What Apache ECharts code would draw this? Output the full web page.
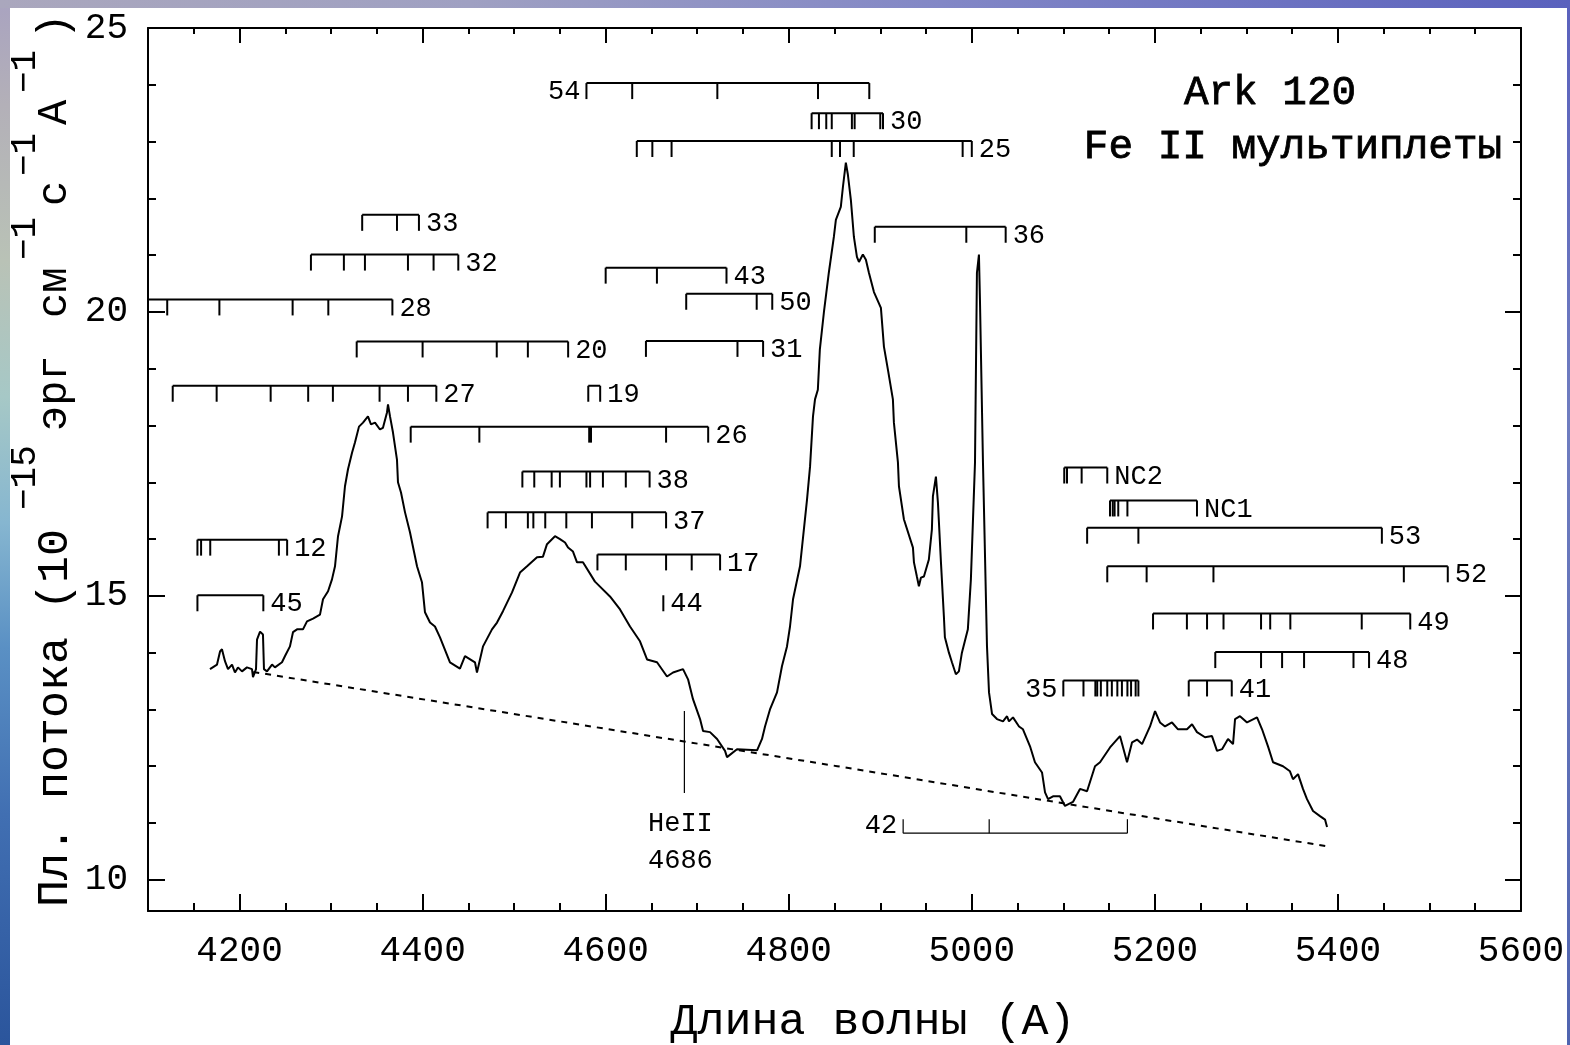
<!DOCTYPE html>
<html>
<head>
<meta charset="utf-8">
<script src="https://cdn.jsdelivr.net/npm/echarts@6/dist/echarts.min.js"></script>
<style>
  html, body { margin: 0; padding: 0; overflow: hidden; background: #fff; }
  #stripLeft { position: absolute; left: 0; top: 0; width: 10px; height: 1045px;
    background: linear-gradient(to bottom, #a9a3c0 0%, #b3b0b8 10%, #b9c2b6 25%, #a6c8c6 38%, #86b6d0 50%, #5a90c4 62%, #416fb2 78%, #2b559c 100%); }
  #stripTop { position: absolute; left: 0; top: 0; width: 1570px; height: 8px;
    background: linear-gradient(to right, #aaa7bd 0%, #9fa0c2 30%, #8287c6 60%, #5a61bd 100%); }
  #stripRight { position: absolute; right: 0; top: 0; width: 3px; height: 1045px;
    background: linear-gradient(to bottom, #5a61bd 0%, #6f7dc0 40%, #4f64b0 100%); }
  #chart { position: absolute; left: 0; top: 0; width: 1570px; height: 1045px; }
</style>
</head>
<body>
<div id="stripLeft"></div>
<div id="stripTop"></div>
<div id="stripRight"></div>
<div id="chart"></div>
<script>
// ---- Ark 120 optical spectrum (wavelength in Å, flux in 1e-15 erg/cm2/s/Å) ----
const spectrumWave = [
  4167.7, 4175.4, 4178.7, 4180.8, 4184.1, 4187.4, 4191.8, 4195.0, 4198.3, 4202.7,
  4208.1, 4213.6, 4214.7, 4218.0, 4219.1, 4222.4, 4225.6, 4226.7, 4230.0, 4235.5,
  4238.7, 4246.4, 4249.7, 4255.1, 4258.4, 4262.8, 4269.3, 4273.7, 4280.3, 4287.9,
  4291.2, 4296.7, 4301.0, 4304.3, 4307.6, 4312.0, 4315.2, 4318.5, 4322.9, 4326.1,
  4330.5, 4334.9, 4340.3, 4343.6, 4348.0, 4353.4, 4356.7, 4361.1, 4362.2, 4364.4,
  4367.6, 4372.0, 4373.1, 4376.4, 4380.8, 4386.2, 4393.9, 4399.3, 4402.6, 4408.1,
  4413.5, 4419.0, 4429.9, 4440.8, 4446.3, 4457.2, 4459.4, 4466.0, 4475.8, 4481.3,
  4487.8, 4497.7, 4506.4, 4514.1, 4525.0, 4531.5, 4535.9, 4544.6, 4550.1, 4555.6,
  4558.9, 4564.3, 4568.7, 4575.2, 4588.3, 4604.7, 4615.7, 4626.6, 4637.5, 4645.2,
  4656.1, 4667.0, 4673.6, 4684.5, 4690.0, 4695.4, 4703.1, 4706.4, 4714.0, 4721.7,
  4730.4, 4732.6, 4743.5, 4765.4, 4770.8, 4774.1, 4779.5, 4787.2, 4792.6, 4798.1,
  4801.4, 4804.7, 4812.3, 4820.0, 4823.3, 4826.5, 4828.7, 4831.8, 4834.0, 4838.4,
  4843.8, 4849.3, 4851.5, 4856.9, 4859.2, 4862.4, 4864.6, 4867.9, 4871.2, 4874.5,
  4876.7, 4881.0, 4884.3, 4887.6, 4893.1, 4900.7, 4904.0, 4908.4, 4913.8, 4914.9,
  4919.3, 4920.4, 4925.8, 4935.7, 4936.8, 4940.0, 4942.2, 4944.4, 4947.7, 4953.1,
  4956.4, 4957.5, 4960.8, 4963.0, 4966.3, 4969.5, 4970.6, 4975.0, 4978.3, 4982.6,
  4985.9, 4989.2, 4995.7, 4999.0, 5003.5, 5005.6, 5007.8, 5008.9, 5012.2, 5016.6,
  5018.8, 5022.1, 5027.5, 5034.1, 5038.5, 5040.6, 5045.0, 5051.6, 5055.9, 5063.6,
  5069.0, 5076.7, 5080.0, 5083.3, 5088.7, 5096.3, 5101.8, 5110.5, 5118.2, 5125.9,
  5134.6, 5140.1, 5151.0, 5161.9, 5169.6, 5175.1, 5180.5, 5186.0, 5194.7, 5200.2,
  5205.6, 5211.1, 5218.7, 5225.3, 5235.1, 5240.6, 5246.0, 5254.8, 5262.4, 5267.9,
  5273.4, 5279.9, 5285.4, 5287.6, 5293.0, 5300.7, 5311.6, 5317.1, 5323.6, 5329.1,
  5340.0, 5347.6, 5350.9, 5356.4, 5361.8, 5366.2, 5372.8, 5380.4, 5385.9, 5388.1
];
const spectrumFlux = [
  13.71, 13.79, 14.02, 14.06, 13.85, 13.71, 13.79, 13.65, 13.74, 13.67,
  13.74, 13.71, 13.57, 13.71, 14.23, 14.37, 14.32, 13.71, 13.67, 13.79,
  13.74, 13.83, 13.94, 14.11, 14.36, 14.41, 14.41, 14.55, 14.60, 14.67,
  14.94, 15.08, 15.29, 15.52, 16.05, 16.40, 16.93, 17.23, 17.52, 17.70,
  17.98, 18.05, 18.16, 18.02, 18.05, 17.93, 17.96, 18.23, 18.37, 18.16,
  17.88, 17.40, 17.00, 16.82, 16.47, 16.12, 15.52, 15.24, 14.71, 14.53,
  14.46, 14.27, 13.83, 13.72, 13.94, 13.83, 13.65, 14.11, 14.41, 14.53,
  14.73, 15.06, 15.41, 15.52, 15.68, 15.69, 15.91, 16.05, 16.00, 15.94,
  15.85, 15.78, 15.59, 15.59, 15.25, 14.99, 14.76, 14.46, 14.20, 13.88,
  13.83, 13.58, 13.65, 13.71, 13.53, 13.18, 12.83, 12.62, 12.60, 12.48,
  12.27, 12.16, 12.30, 12.28, 12.48, 12.70, 13.00, 13.30, 13.76, 14.11,
  14.46, 14.94, 15.52, 16.70, 17.28, 18.16, 18.46, 18.63, 19.34, 19.99,
  20.69, 21.32, 21.62, 21.85, 22.20, 22.63, 22.42, 21.97, 21.32, 20.97,
  20.88, 21.01, 20.92, 20.69, 20.35, 20.07, 19.39, 18.98, 18.46, 18.05,
  17.35, 16.93, 16.35, 15.85, 15.59, 15.34, 15.17, 15.32, 15.34, 15.64,
  16.17, 16.75, 17.10, 16.64, 15.59, 14.64, 14.27, 14.00, 13.83, 13.62,
  13.67, 14.00, 14.41, 15.29, 17.35, 20.69, 21.01, 20.22, 17.35, 14.11,
  13.30, 12.92, 12.83, 12.79, 12.88, 12.79, 12.86, 12.70, 12.65, 12.35,
  12.07, 11.89, 11.54, 11.42, 11.47, 11.47, 11.30, 11.37, 11.60, 11.56,
  12.00, 12.07, 12.33, 12.53, 12.07, 12.42, 12.47, 12.39, 12.70, 12.97,
  12.77, 12.70, 12.77, 12.65, 12.65, 12.74, 12.60, 12.51, 12.53, 12.27,
  12.30, 12.48, 12.39, 12.83, 12.88, 12.77, 12.86, 12.65, 12.35, 12.07,
  12.00, 11.91, 11.77, 11.86, 11.60, 11.42, 11.21, 11.12, 11.06, 10.93
];

// ---- fitted continuum ----
const continuumWave = [4215, 4419, 4853, 5053, 5388];
const continuumFlux = [13.66, 13.13, 12.00, 11.47, 10.59];

// ---- Fe II multiplets: name, bar level (flux units) and line wavelengths ----
const multipletNames = ['54', '30', '25', '33', '36', '32', '43', '50', '28', '20',
  '31', '27', '19', '26', 'NC2', '38', 'NC1', '37', '53', '12',
  '17', '52', '45', '44', '49', '48', '35', '41', '42'];
const multipletLevels = [24.03, 23.50, 23.01, 21.71, 21.50, 21.01, 20.78, 20.32, 20.22, 19.48,
  19.49, 18.70, 18.70, 17.98, 17.26, 17.19, 16.68, 16.47, 16.20, 15.99,
  15.73, 15.52, 15.01, 15.01, 14.69, 14.01, 13.51, 13.51, 10.82];
const multipletWaves = [
  [4579, 4629, 4722, 4832, 4888],
  [4825, 4833, 4841, 4847, 4869, 4872, 4900, 4903],
  [4634, 4651, 4672, 4847, 4856, 4871, 4990, 5000],
  [4334, 4372, 4396],
  [4894, 4994, 5037],
  [4278, 4314, 4337, 4384, 4412, 4439],
  [4600, 4656, 4732],
  [4688, 4765, 4782],
  [4087, 4121, 4178, 4258, 4297, 4367],
  [4328, 4400, 4481, 4515, 4559],
  [4644, 4744, 4772],
  [4127, 4175, 4234, 4275, 4302, 4353, 4384, 4415],
  [4581, 4594],
  [4387, 4462, 4582, 4584, 4666, 4712],
  [5101, 5104, 5120, 5148],
  [4509, 4522, 4541, 4550, 4579, 4583, 4597, 4622, 4648],
  [5151, 5154, 5156, 5160, 5170, 5246],
  [4471, 4491, 4515, 4521, 4534, 4557, 4585, 4629, 4666],
  [5126, 5182, 5448],
  [4154, 4158, 4168, 4243, 4252],
  [4591, 4622, 4666, 4694, 4725],
  [5148, 5191, 5264, 5472, 5520],
  [4154, 4226],
  [4663],
  [5198, 5235, 5257, 5275, 5316, 5326, 5348, 5426, 5479],
  [5266, 5316, 5339, 5363, 5417, 5434],
  [5100, 5122, 5135, 5137, 5141, 5148, 5153, 5159, 5164, 5170, 5174, 5179, 5182],
  [5237, 5257, 5284],
  [4925, 5019, 5170]
];
// multiplets whose number is written before the bar, and the one drawn below the spectrum
const labelBefore = ['54', '35', '42'];
const invertedBar = ['42'];

// ---- He II 4686 marker ----
const heIIWave = 4686;
const heIIFluxRange = [12.97, 11.53];
const heIILabels = ['HeII', '4686'];

// ---- axes ----
const xRange = [4100, 5600];
const yRange = [9.45, 25];
const xTickLabels = [4200, 4400, 4600, 4800, 5000, 5200, 5400, 5600];
const yTickLabels = [10, 15, 20, 25];
const xMinorTicks = [];
for (let v = 4100; v <= 5600; v += 50) xMinorTicks.push(v);
const yMinorTicks = [];
for (let v = 10; v <= 25; v += 1) yMinorTicks.push(v);

const FONT = '"Liberation Mono", "DejaVu Sans Mono", monospace';
const INK = '#000';

function xAxisDef(position, ticks, len, withLine, withLabels) {
  return {
    type: 'value', min: xRange[0], max: xRange[1], position: position,
    axisLine: { show: withLine, onZero: false, lineStyle: { color: INK, width: 2 } },
    axisTick: { show: true, inside: true, length: len, customValues: ticks,
      lineStyle: { color: INK, width: 2 } },
    axisLabel: withLabels ? { show: true, customValues: xTickLabels, margin: 22,
      formatter: v => String(v),
      color: INK, fontFamily: FONT, fontSize: 36, showMaxLabel: true } : { show: false },
    splitLine: { show: false }
  };
}
function yAxisDef(position, ticks, len, withLine, withLabels) {
  return {
    type: 'value', min: yRange[0], max: yRange[1], position: position,
    axisLine: { show: withLine, onZero: false, lineStyle: { color: INK, width: 2 } },
    axisTick: { show: true, inside: true, length: len, customValues: ticks,
      lineStyle: { color: INK, width: 2 } },
    axisLabel: withLabels ? { show: true, customValues: yTickLabels, margin: 20,
      formatter: v => String(v),
      color: INK, fontFamily: FONT, fontSize: 36, showMaxLabel: true } : { show: false },
    splitLine: { show: false }
  };
}

const chart = echarts.init(document.getElementById('chart'), null, { renderer: 'canvas' });

const BAR_TICK = 16;
const LABEL_FONT = '27px ' + FONT;

function renderMultiplet(params, api) {
  const i = api.value(2);
  const name = multipletNames[i];
  const waves = multipletWaves[i];
  const level = multipletLevels[i];
  const down = invertedBar.indexOf(name) < 0;
  const y = api.coord([waves[0], level])[1];
  const xs = waves.map(w => api.coord([w, level])[0]);
  const x0 = Math.min.apply(null, xs), x1 = Math.max.apply(null, xs);
  const lw = down ? 2 : 1.2;
  const children = [];
  if (xs.length > 1) {
    children.push({ type: 'line', shape: { x1: x0, y1: y, x2: x1, y2: y },
      style: { stroke: INK, lineWidth: lw } });
  }
  xs.forEach(x => {
    children.push({ type: 'line',
      shape: { x1: x, y1: y, x2: x, y2: down ? y + BAR_TICK : y - 14 },
      style: { stroke: INK, lineWidth: lw } });
  });
  const before = labelBefore.indexOf(name) >= 0;
  children.push({ type: 'text', style: {
    text: name, x: before ? x0 - 6 : x1 + 7, y: down ? y + 9 : y - 7,
    align: before ? 'right' : 'left', verticalAlign: 'middle',
    fill: INK, font: LABEL_FONT } });
  return { type: 'group', children: children };
}

function renderHeII(params, api) {
  const top = api.coord([heIIWave, heIIFluxRange[0]]);
  const bot = api.coord([heIIWave, heIIFluxRange[1]]);
  return { type: 'group', children: [
    { type: 'line', shape: { x1: top[0], y1: top[1], x2: bot[0], y2: bot[1] },
      style: { stroke: INK, lineWidth: 1.2 } },
    { type: 'text', style: { text: heIILabels[0], x: bot[0] - 4, y: bot[1] + 31,
      align: 'center', verticalAlign: 'middle', fill: INK, font: LABEL_FONT } },
    { type: 'text', style: { text: heIILabels[1], x: bot[0] - 4, y: bot[1] + 68,
      align: 'center', verticalAlign: 'middle', fill: INK, font: LABEL_FONT } }
  ] };
}

// vertical axis title, drawn piece by piece so the exponents sit raised
const yTitleMain = { x: 55, size: 42 };
const yTitleSup = { x: 25, size: 36 };
const yTitlePieces = [
  ['Пл. потока (10', 907, false, 45],
  ['\u221215', 510, true],
  ['эрг', 431, false],
  ['см', 318, false],
  ['\u22121', 260, true],
  ['с', 206, false],
  ['\u22121', 176, true],
  ['A', 125, false],
  ['\u22121', 93, true],
  [')', 39, false]
];
const yTitleGraphics = yTitlePieces.map(p => {
  const s = p[2] ? yTitleSup : yTitleMain;
  const size = p[3] || s.size;
  return { type: 'text', x: s.x, y: p[1], rotation: Math.PI / 2,
    style: { text: p[0], align: 'left', verticalAlign: 'middle', fill: INK,
      font: size + 'px ' + FONT } };
});

const option = {
  backgroundColor: 'transparent',
  animation: false,
  grid: { left: 148, top: 28, right: 49, bottom: 134, containLabel: false, outerBoundsMode: 'none' },
  xAxis: [
    xAxisDef('bottom', xMinorTicks, 8, true, true),
    xAxisDef('bottom', xTickLabels, 17, false, false),
    xAxisDef('top', xMinorTicks, 6, true, false),
    xAxisDef('top', xTickLabels, 15, false, false)
  ],
  yAxis: [
    yAxisDef('left', yMinorTicks, 8, true, true),
    yAxisDef('left', yTickLabels, 17, false, false),
    yAxisDef('right', yMinorTicks, 8, true, false),
    yAxisDef('right', yTickLabels, 16, false, false)
  ],
  series: [
    {
      name: 'continuum', type: 'line', xAxisIndex: 0, yAxisIndex: 0,
      data: continuumWave.map((w, k) => [w, continuumFlux[k]]),
      symbol: 'none', lineStyle: { color: INK, width: 2, type: [6, 6] }, z: 2
    },
    {
      name: 'Ark 120', type: 'line', xAxisIndex: 0, yAxisIndex: 0,
      data: spectrumWave.map((w, k) => [w, spectrumFlux[k]]),
      symbol: 'none', lineStyle: { color: INK, width: 2 }, z: 3
    },
    {
      name: 'Fe II', type: 'custom', xAxisIndex: 0, yAxisIndex: 0, clip: true,
      data: multipletNames.map((n, i) => [Math.min.apply(null, multipletWaves[i]), multipletLevels[i], i]),
      encode: { x: 0, y: 1 },
      renderItem: renderMultiplet, z: 4
    },
    {
      name: 'He II', type: 'custom', xAxisIndex: 0, yAxisIndex: 0,
      data: [[heIIWave, heIIFluxRange[0]]],
      encode: { x: 0, y: 1 },
      renderItem: renderHeII, z: 4
    }
  ],
  graphic: [
    { type: 'text', x: 1270, y: 93, style: { text: 'Ark 120', align: 'center', verticalAlign: 'middle',
      fill: INK, stroke: INK, lineWidth: 0.8, font: '41px ' + FONT } },
    { type: 'text', x: 1293, y: 147, style: { text: 'Fe II мультиплеты', align: 'center', verticalAlign: 'middle',
      fill: INK, stroke: INK, lineWidth: 0.8, font: '41px ' + FONT } },
    { type: 'text', x: 873, y: 1022, style: { text: 'Длина волны (A)', align: 'center', verticalAlign: 'middle',
      fill: INK, font: '45px ' + FONT } }
  ].concat(yTitleGraphics)
};
chart.setOption(option);
</script>
</body>
</html>
